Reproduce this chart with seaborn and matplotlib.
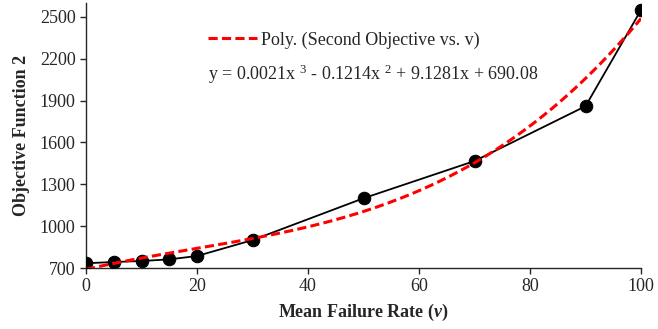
import numpy as np
import pandas as pd
import matplotlib
matplotlib.use("Agg")
import matplotlib.pyplot as plt
import seaborn as sns

# Mean failure rate (v) and the second objective value
failure_rate = [0, 5, 10, 15, 20, 30, 50, 70, 90, 100]
objective_2 = [734, 743, 750, 762, 786, 900, 1200, 1467, 1860, 2550]

# Cubic trendline coefficients (highest power first)
poly_coefs = [0.0021, -0.1214, 9.1281, 690.08]

x_ticks = [0, 20, 40, 60, 80, 100]
y_ticks = [700, 1000, 1300, 1600, 1900, 2200, 2500]

sns.set_style("ticks")
plt.rcParams["font.family"] = ["Liberation Serif", "DejaVu Serif"]
plt.rcParams["mathtext.fontset"] = "custom"
plt.rcParams["mathtext.rm"] = "Liberation Serif"
plt.rcParams["mathtext.bfit"] = "Liberation Serif:bold:italic"
plt.rcParams["mathtext.it"] = "Liberation Serif:italic"

fig = plt.figure(figsize=(6.58, 3.29), dpi=100)
ax = fig.add_axes([0.1307, 0.1854, 0.8435, 0.8055])

data = pd.DataFrame({"v": failure_rate, "obj": objective_2})
sns.lineplot(data=data, x="v", y="obj", ax=ax, color="black", linewidth=1.3,
             marker="o", markersize=9, markeredgecolor="black", zorder=3)

xs = np.linspace(0, 100, 300)
trend = pd.DataFrame({"v": xs, "fit": np.polyval(poly_coefs, xs)})
sns.lineplot(data=trend, x="v", y="fit", ax=ax, color="#ff0000", linewidth=2.2,
             dashes=False, linestyle=(0, (3.0, 1.4)), zorder=4,
             label="Poly. (Second Objective vs. v)")

ax.set_xlim(0, 100)
ax.set_ylim(700, 2600)
ax.set_xticks(x_ticks)
ax.set_yticks(y_ticks)
ax.tick_params(axis="both", labelsize=13, length=4, width=1, direction="out")
sns.despine(ax=ax)
for s in ("left", "bottom"):
    ax.spines[s].set_linewidth(1)

ax.set_xlabel("Mean Failure Rate ($\\mathbfit{v}$)", fontsize=13, fontweight="bold", labelpad=5)
ax.set_ylabel("Objective Function 2", fontsize=13, fontweight="bold", labelpad=7)

leg = ax.legend(loc="center left", bbox_to_anchor=(0.2195, 0.86), frameon=False,
                fontsize=13, handlelength=2.7, handletextpad=0.25, borderaxespad=0,
                borderpad=0)

ax.text(0.2195, 0.732, "y = 0.0021x $^{3}$ - 0.1214x $^{2}$ + 9.1281x + 690.08",
        transform=ax.transAxes, fontsize=13, ha="left", va="center")

fig.savefig("out.png", dpi=100)
